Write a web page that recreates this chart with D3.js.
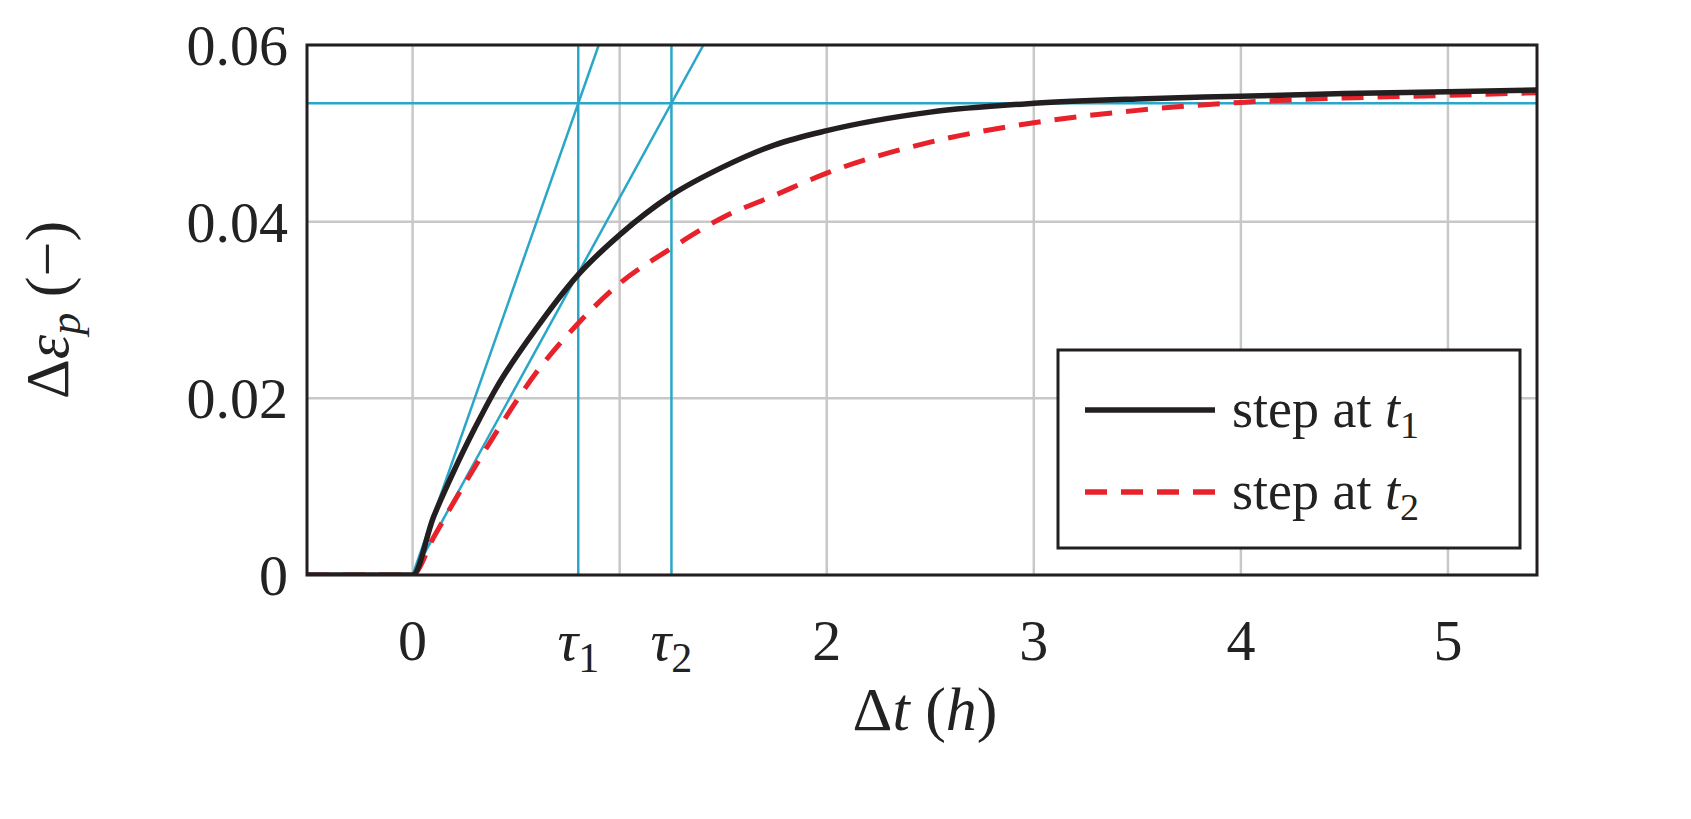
<!DOCTYPE html>
<html><head><meta charset="utf-8">
<script src="https://cdn.jsdelivr.net/npm/d3@7"></script>
<style>body{margin:0;background:#fff}text{font-family:"Liberation Serif",serif;fill:#222}</style>
</head><body><svg id="c" width="1691" height="819"></svg>
<script>
// curve data
var tVals = [-0.51, 0, 0.1, 0.2, 0.3, 0.4, 0.6, 0.8, 1.0, 1.25, 1.5, 1.75, 2, 2.5, 3, 3.5, 4, 4.5, 5, 5.43]
var step1 = [0, 0, 0.0065, 0.0118, 0.0166, 0.021, 0.028, 0.034, 0.0385, 0.043, 0.0462, 0.0487, 0.0503, 0.0524, 0.0534, 0.0539, 0.0542, 0.0545, 0.0547, 0.0549]
var step2 = [0, 0, 0.0042, 0.0083, 0.0122, 0.016, 0.023, 0.0285, 0.033, 0.037, 0.0405, 0.043, 0.0455, 0.049, 0.0512, 0.0526, 0.0535, 0.054, 0.0543, 0.0546]
var xTicks = [0, 2, 3, 4, 5]
var yTicks = [0, 0.02, 0.04, 0.06]
var xGrid = [0, 1, 2, 3, 4, 5]
var tauVals = [0.8, 1.25]
var asymptote = 0.0534

var svg = d3.select("#c")
var x = d3.scaleLinear().domain([-0.51, 5.43]).range([307, 1537])
var y = d3.scaleLinear().domain([0, 0.06]).range([575, 45])

// grid
svg.selectAll(".gx").data(xGrid).enter().append("line")
  .attr("x1", d => x(d)).attr("x2", d => x(d)).attr("y1", 45).attr("y2", 575)
  .attr("stroke", "#c8c8c8").attr("stroke-width", 2.5)
svg.selectAll(".gy").data(yTicks).enter().append("line")
  .attr("x1", 307).attr("x2", 1537).attr("y1", d => y(d)).attr("y2", d => y(d))
  .attr("stroke", "#c8c8c8").attr("stroke-width", 2.5)

svg.append("defs").append("clipPath").attr("id", "clip").append("rect")
  .attr("x", 307).attr("y", 45).attr("width", 1230).attr("height", 530)
var g = svg.append("g").attr("clip-path", "url(#clip)")

var blue = "#2aa7c8"
// tangents, verticals, asymptote
tauVals.forEach(function(tau) {
  g.append("line").attr("x1", x(0)).attr("y1", y(0)).attr("x2", x(tau * 0.06 / asymptote)).attr("y2", y(0.06))
    .attr("stroke", blue).attr("stroke-width", 2.5)
  g.append("line").attr("x1", x(tau)).attr("x2", x(tau)).attr("y1", 45).attr("y2", 575)
    .attr("stroke", blue).attr("stroke-width", 2.5)
})
g.append("line").attr("x1", 307).attr("x2", 1537).attr("y1", y(asymptote)).attr("y2", y(asymptote))
  .attr("stroke", blue).attr("stroke-width", 2.5)

var line = d3.line().x((d, i) => x(tVals[i])).y(d => y(d)).curve(d3.curveMonotoneX)
g.append("path").attr("d", line(step2)).attr("fill", "none").attr("stroke", "#e8222a")
  .attr("stroke-width", 5).attr("stroke-dasharray", "22,14")
g.append("path").attr("d", line(step1)).attr("fill", "none").attr("stroke", "#231f20").attr("stroke-width", 5.5)

// frame
svg.append("rect").attr("x", 307).attr("y", 45).attr("width", 1230).attr("height", 530)
  .attr("fill", "none").attr("stroke", "#231f20").attr("stroke-width", 3)

// tick labels
svg.selectAll(".yt").data(yTicks).enter().append("text")
  .attr("x", 288).attr("y", d => y(d) + 20).attr("text-anchor", "end")
  .style("font-size", "58px").text(d => d === 0 ? "0" : d.toFixed(2))
svg.selectAll(".xt").data(xTicks).enter().append("text")
  .attr("x", d => x(d)).attr("y", 660).attr("text-anchor", "middle")
  .style("font-size", "58px").text(d => d)
tauVals.forEach(function(tau, i) {
  var t = svg.append("text").attr("x", x(tau)).attr("y", 660).attr("text-anchor", "middle").style("font-size", "58px")
  t.append("tspan").style("font-style", "italic").text("τ")
  t.append("tspan").attr("dy", 12).style("font-size", "42px").text(i + 1)
})

// axis titles
var xl = svg.append("text").attr("x", 925).attr("y", 730).attr("text-anchor", "middle").style("font-size", "62px")
xl.append("tspan").text("Δ")
xl.append("tspan").style("font-style", "italic").text("t")
xl.append("tspan").text(" (")
xl.append("tspan").style("font-style", "italic").text("h")
xl.append("tspan").text(")")
var yl = svg.append("text").attr("transform", "translate(68,310) rotate(-90)").attr("text-anchor", "middle").style("font-size", "62px")
yl.append("tspan").text("Δ")
yl.append("tspan").style("font-style", "italic").text("ε")
yl.append("tspan").attr("dy", 12).style("font-size", "44px").style("font-style", "italic").text("p")
yl.append("tspan").attr("dy", -12).text(" (−)")

// legend
svg.append("rect").attr("x", 1058).attr("y", 350).attr("width", 462).attr("height", 198)
  .attr("fill", "#fff").attr("stroke", "#231f20").attr("stroke-width", 3)
var leg = [{c: "#231f20", dash: null, n: 1}, {c: "#e8222a", dash: "22,14", n: 2}]
leg.forEach(function(d, i) {
  var ly = 410 + i * 82
  svg.append("line").attr("x1", 1085).attr("x2", 1215).attr("y1", ly).attr("y2", ly)
    .attr("stroke", d.c).attr("stroke-width", 5.5).attr("stroke-dasharray", d.dash)
  var t = svg.append("text").attr("x", 1232).attr("y", ly + 17).style("font-size", "54px")
  t.append("tspan").text("step at ")
  t.append("tspan").style("font-style", "italic").text("t")
  t.append("tspan").attr("dy", 11).style("font-size", "38px").text(d.n)
})
</script></body></html>
